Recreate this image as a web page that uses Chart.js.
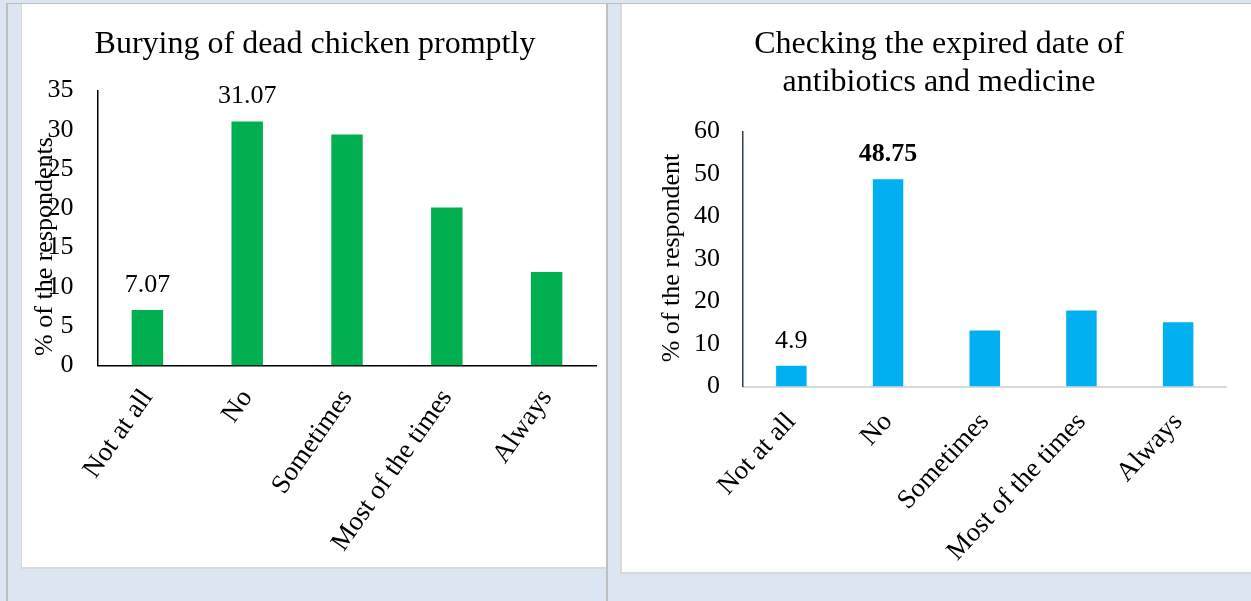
<!DOCTYPE html>
<html>
<head>
<meta charset="utf-8">
<script src="https://cdn.jsdelivr.net/npm/chart.js@4.4.1/dist/chart.umd.min.js"></script>
<style>
  html, body { margin: 0; padding: 0; }
  body { width: 1251px; height: 601px; background: #dce6f2; position: relative; overflow: hidden; }
  .rule { position: absolute; background: #bfbfbf; }
  .card { position: absolute; background: #fff; box-sizing: border-box;
          border-left: 1px solid #d9d9d9; border-bottom: 2px solid #d9d9d9; }
  canvas { position: absolute; }
</style>
</head>
<body>
<div class="rule" style="left:6px;top:3px;width:1245px;height:1px"></div>
<div class="rule" style="left:6px;top:3px;width:2px;height:598px"></div>
<div class="rule" style="left:606px;top:3px;width:2px;height:598px"></div>
<div class="card" style="left:21px;top:4px;width:585px;height:565px"></div>
<div class="card" style="left:620px;top:4px;width:631px;height:570px;border-left-width:2px"></div>
<canvas id="burying" width="584" height="562" style="left:22px;top:5px"></canvas>
<canvas id="expiry" width="629" height="567" style="left:622px;top:5px"></canvas>
<script>
// Survey responses (% of respondents) for two biosecurity practices
const categories = ['Not at all', 'No', 'Sometimes', 'Most of the times', 'Always'];

const buryingValues = [7.07, 31.07, 29.4, 20.1, 11.9];
const buryingTicks = [0, 5, 10, 15, 20, 25, 30, 35];
const buryingLabelled = [0, 1];
const buryingBold = [];

const expiryValues = [4.9, 48.75, 13.2, 17.9, 15.1];
const expiryTicks = [0, 10, 20, 30, 40, 50, 60];
const expiryLabelled = [0, 1];
const expiryBold = [1];

const SERIF = "'Liberation Serif', 'Times New Roman', Times, serif";
Chart.defaults.font.family = SERIF;
Chart.defaults.color = '#000';

// Writes the value above selected bars
const valueLabels = {
  id: 'valueLabels',
  afterDatasetsDraw(chart, args, opts) {
    const { ctx } = chart;
    const meta = chart.getDatasetMeta(0);
    const values = chart.data.datasets[0].data;
    ctx.save();
    ctx.fillStyle = '#000';
    ctx.textAlign = 'center';
    ctx.textBaseline = 'alphabetic';
    for (const i of opts.indices) {
      const bar = meta.data[i];
      ctx.font = (opts.bold.includes(i) ? 'bold ' : '') + opts.size + 'px ' + SERIF;
      ctx.fillText(String(values[i]), bar.x, bar.y - opts.gap);
    }
    ctx.restore();
  }
};

// Vertical caption beside the value axis
const axisCaption = {
  id: 'axisCaption',
  afterDraw(chart, args, opts) {
    const { ctx } = chart;
    ctx.save();
    ctx.font = opts.size + 'px ' + SERIF;
    ctx.fillStyle = '#000';
    ctx.textAlign = 'center';
    ctx.textBaseline = 'middle';
    ctx.translate(opts.x, opts.y);
    ctx.rotate(-Math.PI / 2);
    ctx.fillText(opts.text, 0, 0);
    ctx.restore();
  }
};

function makeChart(id, cfg) {
  return new Chart(document.getElementById(id), {
    type: 'bar',
    data: {
      labels: categories,
      datasets: [{
        data: cfg.values,
        backgroundColor: cfg.color,
        borderWidth: 0,
        categoryPercentage: 1,
        barPercentage: 0.315
      }]
    },
    plugins: [valueLabels, axisCaption],
    options: {
      responsive: false,
      animation: false,
      devicePixelRatio: 1,
      layout: { padding: { left: cfg.padLeft, right: cfg.padRight, top: 0, bottom: 0 } },
      plugins: {
        legend: { display: false },
        tooltip: { enabled: false },
        title: {
          display: true,
          text: cfg.title,
          color: '#000',
          font: { size: 32, weight: 'normal', lineHeight: 1.16 },
          padding: { top: 21.44, bottom: cfg.titleGap }
        },
        valueLabels: { indices: cfg.labelled, bold: cfg.bold, size: 26, gap: 18 },
        axisCaption: { text: cfg.axisTitle, size: 26, x: cfg.captionX, y: cfg.captionY }
      },
      scales: {
        x: {
          grid: { display: false, drawTicks: false },
          border: { color: cfg.xAxisColor, width: cfg.xAxisWidth },
          ticks: { autoSkip: false, minRotation: cfg.labelAngle, maxRotation: cfg.labelAngle,
                   padding: cfg.labelPad, font: { size: 27 } },
          afterFit: (s) => { s.height = cfg.xHeight; }
        },
        y: {
          min: 0,
          max: cfg.ticks[cfg.ticks.length - 1],
          grid: { display: false, drawTicks: false },
          border: { color: cfg.yAxisColor, width: 1.5 },
          ticks: { padding: cfg.tickPad, font: { size: 26 } },
          afterBuildTicks: (s) => { s.ticks = cfg.ticks.map(v => ({ value: v })); },
          afterFit: (s) => { s.width = cfg.yWidth; }
        }
      }
    }
  });
}

makeChart('burying', {
  values: buryingValues,
  ticks: buryingTicks,
  labelled: buryingLabelled,
  bold: buryingBold,
  color: '#00b050',
  title: 'Burying of dead chicken promptly',
  axisTitle: '% of the respondents',
  padLeft: 11.5, padRight: 9.5, yWidth: 64, xHeight: 201.5,
  titleGap: 26.94, tickPad: 24, labelAngle: 55, labelPad: 18,
  captionX: 23.5, captionY: 241.5,
  xAxisColor: '#000', xAxisWidth: 1.5, yAxisColor: '#000'
});

makeChart('expiry', {
  values: expiryValues,
  ticks: expiryTicks,
  labelled: expiryLabelled,
  bold: expiryBold,
  color: '#00b0f0',
  title: ['Checking the expired date of', 'antibiotics and medicine'],
  axisTitle: '% of the respondent',
  padLeft: 29.5, padRight: 24.5, yWidth: 91.5, xHeight: 185.5,
  titleGap: 30.82, tickPad: 23, labelAngle: 47, labelPad: 20,
  captionX: 50.5, captionY: 253,
  xAxisColor: '#d9d9d9', xAxisWidth: 2, yAxisColor: '#2f4058'
});
</script>
</body>
</html>
